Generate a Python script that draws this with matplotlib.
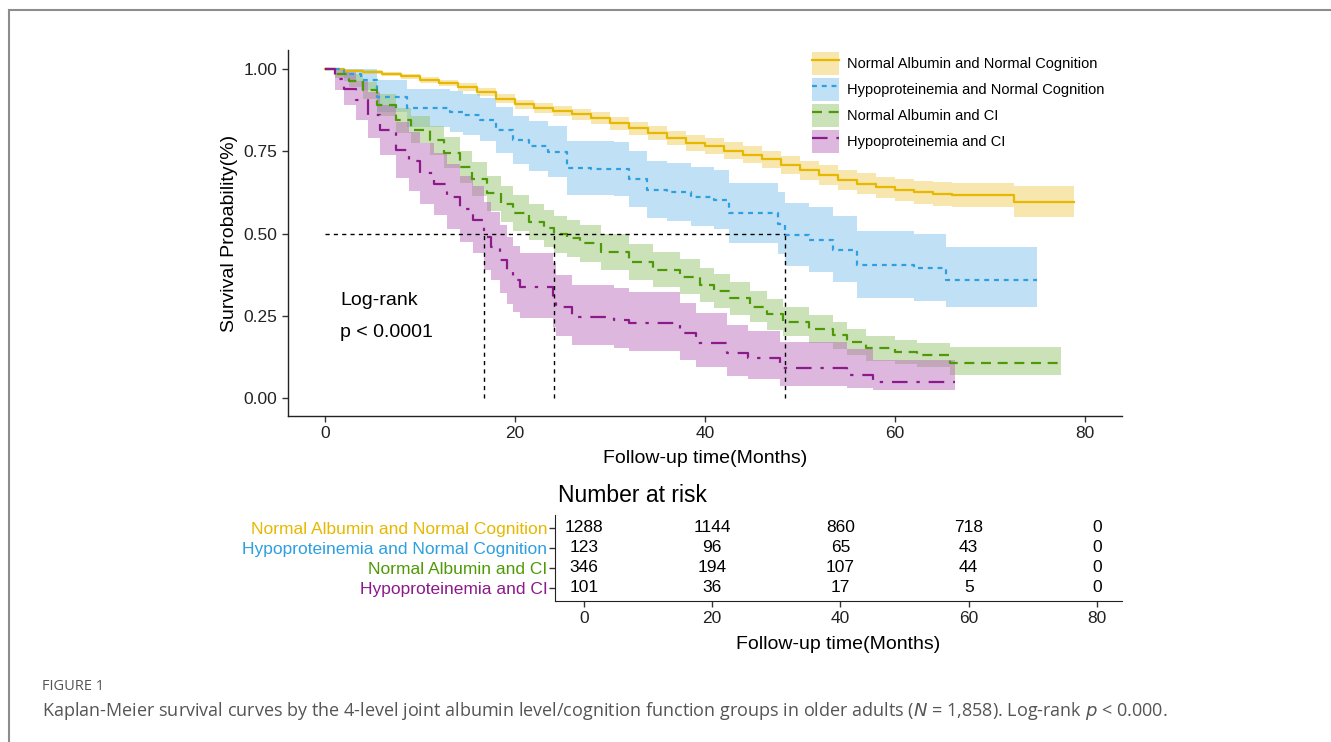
import numpy as np
import matplotlib
matplotlib.use("Agg")
import matplotlib.pyplot as plt
from matplotlib.lines import Line2D
from matplotlib.patches import Rectangle

plt.rcParams['font.family'] = ['Liberation Sans', 'DejaVu Sans']

groups = ["Normal Albumin and Normal Cognition", "Hypoproteinemia and Normal Cognition",
          "Normal Albumin and CI", "Hypoproteinemia and CI"]
colors = ["#E7B800", "#2E9FDF", "#4E9A06", "#8B1A8B"]
fills = ["#EFC94A", "#74BEEA", "#8DBE62", "#B661B8"]
styles = ["-", (0, (2.2, 2.2)), (0, (4.5, 3)), (0, (7, 4, 1.5, 4))]

# Kaplan-Meier step points (time, survival, lower CI, upper CI) and last follow-up
t_nn = [0, 2, 4, 6, 8, 10, 12, 14, 16, 18, 20, 22, 24, 26, 28, 30, 32, 34, 36, 38, 40,
        42, 44, 46, 48, 50, 52, 54, 56, 58, 60, 62, 64, 66, 72.5]
s_nn = [1.0, .995, .99, .985, .978, .968, .958, .945, .93, .91, .893, .882, .872, .862, .85,
        .835, .82, .805, .79, .775, .765, .752, .74, .725, .708, .692, .677, .663, .652, .64,
        .632, .625, .62, .617, .595]
lo_nn = [1.0, .99, .984, .978, .97, .959, .948, .934, .918, .897, .879, .867, .856, .845, .832,
         .816, .8, .784, .768, .752, .741, .727, .714, .698, .68, .663, .647, .632, .62, .607,
         .598, .59, .584, .58, .551]
hi_nn = [1.0, 1.0, .996, .992, .986, .977, .968, .956, .942, .923, .907, .897, .888, .879, .868,
         .854, .84, .826, .812, .798, .789, .777, .766, .752, .736, .721, .707, .694, .684, .673,
         .666, .66, .656, .655, .645]
end_nn = 78.8

t_hn = [0, 2, 3.8, 5.5, 8.6, 13.2, 14.5, 16.3, 18, 19.8, 21.5, 23.5, 25.5, 28, 30.4, 32, 33.9,
        36, 38.5, 41, 42.5, 47.7, 48.4, 51, 53.5, 56, 62, 65.4]
s_hn = [1.0, .985, .967, .916, .88, .87, .86, .845, .815, .784, .765, .748, .698, .697, .695,
        .665, .632, .625, .61, .602, .561, .53, .495, .48, .45, .404, .395, .359]
lo_hn = [1.0, .963, .935, .868, .823, .81, .798, .78, .746, .712, .691, .672, .618, .616, .614,
         .582, .547, .539, .523, .514, .47, .437, .4, .384, .352, .304, .294, .278]
hi_hn = [1.0, 1.0, .999, .966, .94, .932, .924, .912, .886, .858, .842, .826, .781, .781, .779,
         .751, .721, .715, .701, .694, .655, .627, .594, .58, .552, .508, .5, .458]
end_hn = 75.0

t_nc = [0, 1, 2.5, 4, 5.5, 7.5, 9, 11, 12.5, 14.2, 15.5, 17, 18.5, 19.8, 21.5, 23, 24.1, 25.5,
        26.8, 29, 32, 34.5, 37.4, 39.5, 41, 42.6, 44.7, 46.5, 48.2, 51, 53.5, 55, 57, 60, 62.3, 65.8]
s_nc = [1, .985, .965, .936, .89, .845, .815, .784, .745, .703, .665, .622, .59, .562, .535, .516,
        .498, .485, .47, .445, .414, .39, .369, .343, .325, .303, .278, .255, .232, .21, .191, .17,
        .151, .14, .131, .107]
lo_nc = [1, .972, .945, .91, .857, .807, .774, .74, .698, .654, .614, .569, .536, .507, .48, .46,
         .442, .429, .414, .39, .359, .336, .316, .291, .274, .253, .23, .208, .187, .167, .15, .131,
         .113, .103, .095, .07]
hi_nc = [1, .998, .985, .962, .923, .883, .856, .828, .792, .752, .716, .675, .644, .617, .59, .572,
         .554, .541, .526, .5, .469, .444, .422, .395, .376, .353, .326, .302, .277, .253, .232, .209,
         .189, .177, .167, .156]
end_nc = 77.5

t_hc = [0, 1, 2, 3.3, 4.5, 5.8, 7.5, 8.8, 10, 11.5, 12.8, 14.2, 15.6, 16.7, 17.5, 18.4, 19.2,
        19.8, 20.5, 24, 24.3, 26, 30.4, 32, 37.4, 39, 42.3, 44.5, 47.9, 54.9, 57.7]
s_hc = [1, .97, .94, .906, .86, .815, .754, .72, .683, .65, .612, .575, .541, .49, .46, .42, .385,
        .359, .338, .308, .278, .247, .237, .227, .197, .168, .136, .121, .09, .07, .049]
lo_hc = [1, .935, .89, .845, .79, .74, .67, .63, .59, .555, .515, .475, .44, .39, .36, .32, .287,
         .262, .243, .215, .188, .16, .152, .144, .117, .093, .068, .058, .037, .03, .024]
hi_hc = [1, 1.0, .99, .965, .93, .89, .84, .81, .775, .745, .71, .675, .645, .595, .565, .525, .49,
         .462, .44, .41, .375, .345, .335, .322, .29, .258, .222, .204, .17, .148, .116]
end_hc = 66.3

curves = [(t_nn, s_nn, lo_nn, hi_nn, end_nn), (t_hn, s_hn, lo_hn, hi_hn, end_hn),
          (t_nc, s_nc, lo_nc, hi_nc, end_nc), (t_hc, s_hc, lo_hc, hi_hc, end_hc)]

risk_times = [0, 20, 40, 60, 80]
risk_nn = [1288, 1144, 860, 718, 0]
risk_hn = [123, 96, 65, 43, 0]
risk_nc = [346, 194, 107, 44, 0]
risk_hc = [101, 36, 17, 5, 0]
risk = [risk_nn, risk_hn, risk_nc, risk_hc]

fig = plt.figure(figsize=(13.31, 7.42), dpi=100)

# survival curves
ax = fig.add_axes([288 / 1331, 1 - 416 / 742, 834 / 1331, 366 / 742])
medians = []
for (t, s, lo, hi, end), c, f, ls in zip(curves, colors, fills, styles):
    tt = np.append(t, end)
    ax.fill_between(tt, np.append(lo, lo[-1]), np.append(hi, hi[-1]), step="post",
                    color=f, alpha=0.45, lw=0)
    ax.step(tt, np.append(s, s[-1]), where="post", color=c, lw=1.6, ls=ls)
    below = [ti for ti, si in zip(t, s) if si <= 0.5]
    if below:
        medians.append(below[0])

ax.plot([0, max(medians)], [0.5, 0.5], color="black", lw=1, ls=(0, (3, 3)))
for m in medians:
    ax.plot([m, m], [0, 0.5], color="black", lw=1, ls=(0, (3, 3)))

ax.text(1.6, 0.295, "Log-rank", fontsize=14, va="center", ha="left")
ax.text(1.6, 0.198, "p < 0.0001", fontsize=14, va="center", ha="left")

ax.set_xlim(-3.9, 83.9)
ax.set_ylim(-0.0547, 1.0578)
ax.set_xticks([0, 20, 40, 60, 80])
ax.set_yticks([0, 0.25, 0.5, 0.75, 1.0])
ax.set_yticklabels(["0.00", "0.25", "0.50", "0.75", "1.00"])
ax.tick_params(labelsize=12.5, length=4, width=1, colors="#333333", labelcolor="#222222")
for sp in ["top", "right"]:
    ax.spines[sp].set_visible(False)
for sp in ["left", "bottom"]:
    ax.spines[sp].set_linewidth(1)
    ax.spines[sp].set_color("#222222")
ax.set_xlabel("Follow-up time(Months)", fontsize=14, labelpad=6)
ax.set_ylabel("Survival Probability(%)", fontsize=14, labelpad=4)

handles = []
for c, f, ls in zip(colors, fills, styles):
    handles.append((Rectangle((0, 0), 1, 1, facecolor=f, alpha=0.45, lw=0),
                    Line2D([], [], color=c, lw=1.6, ls=ls)))
ax.legend(handles, groups, loc="upper left", bbox_to_anchor=(0.613, 1.03), frameon=False,
          fontsize=10.5, handlelength=1.8, handleheight=2.05, labelspacing=0.2, handletextpad=0.55)

# number at risk table
rt = fig.add_axes([555 / 1331, 1 - 601 / 742, 567 / 1331, 86 / 742])
rt.set_xlim(-4.52, 83.9)
rt.set_ylim(-0.65, 3.65)
for i, row in enumerate(risk):
    y = 3 - i
    for tm, n in zip(risk_times, row):
        rt.text(tm, y, str(n), ha="center", va="center", fontsize=12.5)
rt.set_yticks([3, 2, 1, 0])
rt.set_yticklabels(groups)
rt.set_xticks(risk_times)
rt.tick_params(labelsize=12.5, length=4, width=1, colors="#333333", labelcolor="#222222")
rt.tick_params(axis="y", pad=1.5)
for lab, c in zip(rt.get_yticklabels(), colors):
    lab.set_color(c)
for sp in ["top", "right"]:
    rt.spines[sp].set_visible(False)
for sp in ["left", "bottom"]:
    rt.spines[sp].set_color("#222222")
rt.set_xlabel("Follow-up time(Months)", fontsize=14, labelpad=7)
rt.set_title("Number at risk", fontsize=16.5, loc="left", x=0.005, pad=9)

# frame and caption
fig.add_artist(Line2D([9 / 1331, 9 / 1331], [0, 1 - 10 / 742], color="#8c8c8c", lw=1.5))
fig.add_artist(Line2D([9 / 1331, 1], [1 - 10 / 742, 1 - 10 / 742], color="#8c8c8c", lw=1.5))
fig.text(42 / 1331, 1 - 686 / 742, "FIGURE 1", fontsize=10.5, color="#555555",
         family="Open Sans", va="center")
fig.text(42 / 1331, 1 - 711 / 742,
         "Kaplan-Meier survival curves by the 4-level joint albumin level/cognition function groups "
         "in older adults ($\\it{N}$ = 1,858). Log-rank $\\it{p}$ < 0.000.",
         fontsize=13, color="#555555", family="Open Sans", va="center")

fig.savefig("out.png", dpi=100)
